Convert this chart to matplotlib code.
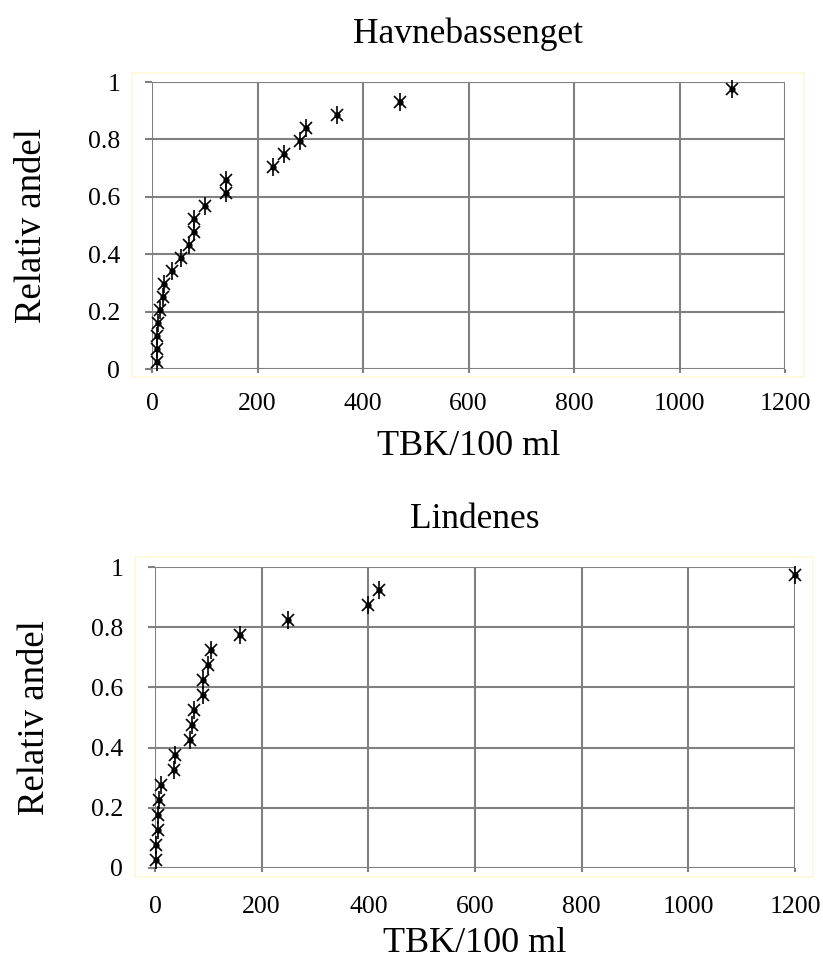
import numpy as np
import matplotlib.pyplot as plt
from matplotlib.patches import Rectangle

# Havnebassenget (top)
havn_tbk = [10, 10, 10, 12, 15, 20, 23, 38, 55, 70, 80, 80, 100, 140, 140,
            230, 250, 280, 292, 350, 470, 1100]
havn_andel = [0.023, 0.068, 0.114, 0.159, 0.205, 0.25, 0.295, 0.341, 0.386,
              0.432, 0.477, 0.523, 0.568, 0.614, 0.659, 0.705, 0.75, 0.795,
              0.841, 0.886, 0.932, 0.977]

# Lindenes (bottom)
lind_tbk = [1, 1, 5, 5, 8, 12, 35, 38, 65, 70, 73, 90, 90, 100, 105,
            160, 250, 400, 420, 1200]
lind_andel = [0.025, 0.075, 0.125, 0.175, 0.225, 0.275, 0.325, 0.375, 0.425,
              0.475, 0.525, 0.575, 0.625, 0.675, 0.725, 0.775, 0.825, 0.875,
              0.925, 0.975]

x_ticks = [0, 200, 400, 600, 800, 1000, 1200]
y_ticks = [0, 0.2, 0.4, 0.6, 0.8, 1]
y_ticklabels = ['0', '0.2', '0.4', '0.6', '0.8', '1']

plt.rcParams['font.family'] = ['Liberation Serif', 'DejaVu Serif']

W, H = 823, 961
fig = plt.figure(figsize=(W / 100, H / 100), dpi=100)


def px_box(l, r, t, b):
    return [l / W, 1 - b / H, (r - l) / W, (b - t) / H]


def draw(ax, x, y, title, xpad, lpad):
    ax.set_xlim(0, 1200)
    ax.set_ylim(0, 1)
    ax.set_xticks(x_ticks)
    ax.set_yticks(y_ticks)
    ax.set_yticklabels(y_ticklabels)
    ax.grid(True, color='#808080', linewidth=1.5)
    for s in ax.spines.values():
        s.set_visible(False)
    ax.tick_params(axis='both', colors='#808080', labelcolor='black',
                   labelsize=18.5, width=1.5, direction='out')
    ax.tick_params(axis='y', length=5, pad=18)
    ax.tick_params(axis='x', length=3, pad=xpad)
    # excel-style star marker: x + vertical bar + centre dot
    ax.plot(x, y, linestyle='none', marker='x', color='black', markersize=9,
            markeredgewidth=1.2, clip_on=False)
    ax.plot(x, y, linestyle='none', marker='|', color='black', markersize=13,
            markeredgewidth=1.2, clip_on=False)
    ax.plot(x, y, linestyle='none', marker='o', color='black', markersize=3.5,
            clip_on=False)
    ax.set_title(title, fontsize=25.5, pad=28)
    ax.set_xlabel('TBK/100 ml', fontsize=26, labelpad=lpad)
    ax.set_ylabel('Relativ andel', fontsize=26.5, labelpad=28)


ax1 = fig.add_axes(px_box(152, 785, 82, 369))
draw(ax1, havn_tbk, havn_andel, 'Havnebassenget', 14, 11)

ax2 = fig.add_axes(px_box(155, 795, 567, 868))
draw(ax2, lind_tbk, lind_andel, 'Lindenes', 17, 7)

# faint yellow plot-area frames
for l, r, t, b in [(132, 804, 73, 377), (135, 813, 557, 877)]:
    fig.patches.append(Rectangle((l / W, 1 - b / H), (r - l) / W, (b - t) / H,
                                 transform=fig.transFigure, fill=False,
                                 edgecolor='#fdf8d8', linewidth=1.2, zorder=0))

fig.savefig('out.png', dpi=100)
